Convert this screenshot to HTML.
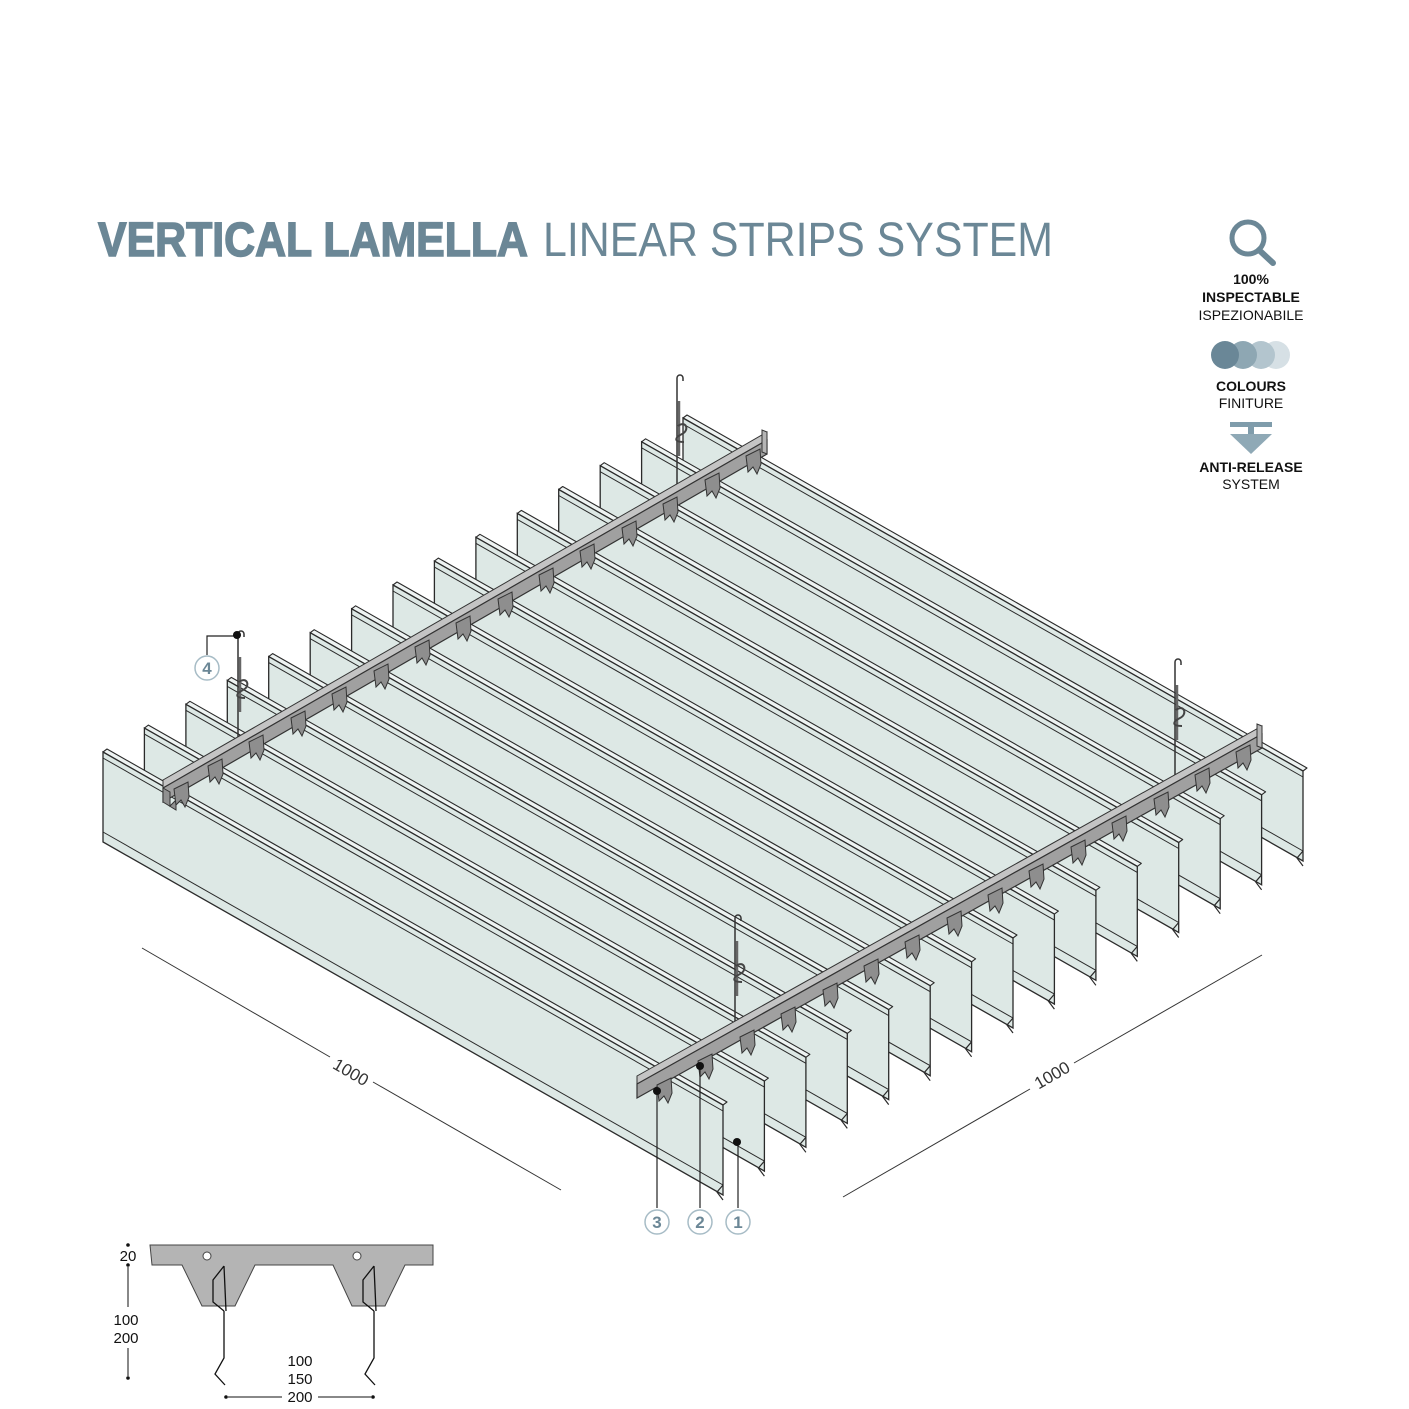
<!DOCTYPE html>
<html><head><meta charset="utf-8"><style>
html,body{margin:0;padding:0;background:#fff}
svg{display:block}
text{font-family:"Liberation Sans",sans-serif}
.n{font-family:"Liberation Sans Narrow","Liberation Sans",sans-serif}
</style></head><body>
<svg width="1409" height="1409" viewBox="0 0 1409 1409" xmlns="http://www.w3.org/2000/svg">
<defs>
<g id="s">
<polygon points="0,0 4,-3 624,350 620,353" fill="#eef3f2" stroke="#2a2a2a" stroke-width="1.1" stroke-linejoin="round"/>
<polygon points="0,0 620,353 620,443 0,90" fill="#dde8e5" stroke="#2a2a2a" stroke-width="1.3"/>
<line x1="0" y1="6" x2="620" y2="359" stroke="#2a2a2a" stroke-width="1"/>
<line x1="0" y1="80" x2="620" y2="433" stroke="#2a2a2a" stroke-width="1"/>
<polyline points="620,433 614,440 620,448" fill="none" stroke="#2a2a2a" stroke-width="1.2"/>
</g>
<g id="t">
<polygon points="-6,0 8,-7 9,8 5,18 1,11 -4,16" fill="#8e8e8e" stroke="#333" stroke-width="1"/>
</g>
<g id="h">
<path d="M0,0 L0,-118 a3,3 0 0 1 6,0 l0,3" fill="none" stroke="#333" stroke-width="1.5"/>
<line x1="2" y1="-95" x2="2" y2="-40" stroke="#666" stroke-width="2.5"/>
<path d="M1,-70 c8,-6 12,4 4,8 c-8,4 -8,8 2,8" fill="none" stroke="#444" stroke-width="2"/>
</g>
</defs>

<!-- title -->
<text x="98" y="256" font-size="48" font-weight="bold" fill="#6b8796" stroke="#6b8796" stroke-width="1.5" textLength="430" lengthAdjust="spacingAndGlyphs">VERTICAL LAMELLA</text>
<text x="543" y="256" font-size="48" fill="#6b8796" textLength="510" lengthAdjust="spacingAndGlyphs">LINEAR STRIPS SYSTEM</text>

<!-- icons -->
<circle cx="1248" cy="238" r="16" fill="none" stroke="#6b8796" stroke-width="5"/>
<line x1="1259" y1="250" x2="1273" y2="263" stroke="#6b8796" stroke-width="6" stroke-linecap="round"/>
<g class="n" font-size="14" fill="#111" text-anchor="middle">
<text x="1251" y="284" font-weight="bold">100%</text>
<text x="1251" y="302" font-weight="bold">INSPECTABLE</text>
<text x="1251" y="320">ISPEZIONABILE</text>
<text x="1251" y="391" font-weight="bold">COLOURS</text>
<text x="1251" y="408">FINITURE</text>
<text x="1251" y="472" font-weight="bold">ANTI-RELEASE</text>
<text x="1251" y="489">SYSTEM</text>
</g>
<circle cx="1276" cy="355" r="14" fill="#d6e0e5"/>
<circle cx="1261" cy="355" r="14" fill="#b3c5ce"/>
<circle cx="1243" cy="355" r="14" fill="#8ea7b3"/>
<circle cx="1225" cy="355" r="14" fill="#6a8797"/>
<rect x="1230" y="422" width="42" height="5" fill="#7f9cab"/>
<rect x="1248" y="427" width="6" height="8" fill="#7f9cab"/>
<polygon points="1230,434 1272,434 1251,454" fill="#8fa9b6"/>

<!-- strips back to front -->
<use href="#s" x="683" y="418"/>
<use href="#s" x="641.6" y="441.8"/>
<use href="#s" x="600.2" y="465.7"/>
<use href="#s" x="558.7" y="489.5"/>
<use href="#s" x="517.3" y="513.4"/>
<use href="#s" x="475.9" y="537.3"/>
<use href="#s" x="434.4" y="561.1"/>
<use href="#s" x="393" y="585"/>
<use href="#s" x="351.6" y="608.8"/>
<use href="#s" x="310.2" y="632.7"/>
<use href="#s" x="268.7" y="656.6"/>
<use href="#s" x="227.3" y="680.4"/>
<use href="#s" x="185.9" y="704.3"/>
<use href="#s" x="144.4" y="728.1"/>
<use href="#s" x="103" y="752"/>

<!-- hangers -->
<use href="#h" x="238" y="752"/>
<use href="#h" x="677" y="496"/>
<use href="#h" x="1175" y="780"/>
<use href="#h" x="735" y="1036"/>

<!-- back rail -->
<polygon points="163,780 767,432 767,440 163,788" fill="#c4c4c4" stroke="#333" stroke-width="1"/>
<polygon points="163,788 767,440 767,454 163,802" fill="#a0a0a0" stroke="#333" stroke-width="1.2"/>
<polygon points="163,788 170,792 170,806 176,800 176,810 163,802" fill="#909090" stroke="#333" stroke-width="1"/>
<polygon points="767,432 762,430 762,452 767,454" fill="#b5b5b5" stroke="#333" stroke-width="1"/>
<g>
<use href="#t" x="214" y="766"/><use href="#t" x="255" y="742"/><use href="#t" x="297" y="718"/>
<use href="#t" x="338" y="694"/><use href="#t" x="380" y="671"/><use href="#t" x="421" y="647"/>
<use href="#t" x="462" y="623"/><use href="#t" x="504" y="599"/><use href="#t" x="545" y="575"/>
<use href="#t" x="586" y="551"/><use href="#t" x="628" y="528"/><use href="#t" x="669" y="504"/>
<use href="#t" x="711" y="480"/><use href="#t" x="752" y="456"/><use href="#t" x="180" y="789"/>
</g>
<!-- front rail -->
<polygon points="637,1076 1262,726 1262,734 637,1084" fill="#c4c4c4" stroke="#333" stroke-width="1"/>
<polygon points="637,1084 1262,734 1262,748 637,1098" fill="#a0a0a0" stroke="#333" stroke-width="1.2"/>
<polygon points="1262,726 1257,724 1257,746 1262,748" fill="#b5b5b5" stroke="#333" stroke-width="1"/>
<g>
<use href="#t" x="663" y="1085"/><use href="#t" x="704" y="1061"/><use href="#t" x="746" y="1037"/>
<use href="#t" x="787" y="1014"/><use href="#t" x="829" y="990"/><use href="#t" x="870" y="966"/>
<use href="#t" x="911" y="942"/><use href="#t" x="953" y="918"/><use href="#t" x="994" y="895"/>
<use href="#t" x="1035" y="871"/><use href="#t" x="1077" y="847"/><use href="#t" x="1118" y="823"/>
<use href="#t" x="1160" y="799"/><use href="#t" x="1201" y="775"/><use href="#t" x="1242" y="752"/>
</g>

<!-- dimension lines -->
<line x1="142" y1="948" x2="330" y2="1057" stroke="#333" stroke-width="1"/>
<line x1="373" y1="1082" x2="561" y2="1190" stroke="#333" stroke-width="1"/>
<text x="351" y="1078" font-size="17" fill="#333" text-anchor="middle" transform="rotate(30 351 1072)">1000</text>
<line x1="843" y1="1197" x2="1030" y2="1089" stroke="#333" stroke-width="1"/>
<line x1="1074" y1="1063" x2="1262" y2="955" stroke="#333" stroke-width="1"/>
<text x="1052" y="1081" font-size="17" fill="#333" text-anchor="middle" transform="rotate(-30 1052 1075)">1000</text>

<!-- callouts -->
<g stroke="#222" stroke-width="1.2" fill="none">
<polyline points="207,655 207,636 237,636"/>
<line x1="657" y1="1091" x2="657" y2="1208"/>
<line x1="700" y1="1066" x2="700" y2="1208"/>
<line x1="738" y1="1142" x2="738" y2="1208"/>
</g>
<g fill="#111"><circle cx="237" cy="635" r="4"/><circle cx="657" cy="1091" r="4"/><circle cx="700" cy="1066" r="4"/><circle cx="737" cy="1142" r="4"/></g>
<g fill="#fff" stroke="#a7bcc6" stroke-width="1.5">
<circle cx="207" cy="668" r="12"/><circle cx="657" cy="1222" r="12"/><circle cx="700" cy="1222" r="12"/><circle cx="738" cy="1222" r="12"/>
</g>
<g font-size="17" font-weight="bold" fill="#6b8796" text-anchor="middle">
<text x="207" y="674">4</text><text x="657" y="1228">3</text><text x="700" y="1228">2</text><text x="738" y="1228">1</text>
</g>

<!-- section detail -->
<path d="M150,1245 L433,1245 L433,1265 L405,1265 L385,1306 L352,1306 L333,1265 L255,1265 L235,1306 L202,1306 L182,1265 L152,1265 Z" fill="#b4b4b4" stroke="#444" stroke-width="1"/>
<circle cx="207" cy="1256" r="4" fill="#fff" stroke="#444"/>
<circle cx="357" cy="1256" r="4" fill="#fff" stroke="#444"/>
<g fill="none" stroke="#111" stroke-width="1.3">
<path d="M224,1266 L213,1280 L213,1302 L224,1311"/><path d="M224,1266 L226,1311"/>
<path d="M224,1311 L224,1358 L215,1374 L225,1385"/>
<path d="M374,1266 L363,1280 L363,1302 L374,1311"/><path d="M374,1266 L376,1311"/>
<path d="M374,1311 L374,1358 L365,1374 L375,1385"/>
</g>
<g fill="#111"><circle cx="128" cy="1245" r="1.8"/><circle cx="128" cy="1265" r="1.8"/><circle cx="128" cy="1378" r="1.8"/><circle cx="226" cy="1397" r="1.8"/><circle cx="373" cy="1397" r="1.8"/></g>
<line x1="128" y1="1267" x2="128" y2="1307" stroke="#111"/>
<line x1="128" y1="1348" x2="128" y2="1376" stroke="#111"/>
<line x1="228" y1="1397" x2="282" y2="1397" stroke="#111"/>
<line x1="318" y1="1397" x2="371" y2="1397" stroke="#111"/>
<g font-size="15" fill="#111" text-anchor="middle">
<text x="128" y="1261">20</text><text x="126" y="1325">100</text><text x="126" y="1343">200</text>
<text x="300" y="1366">100</text><text x="300" y="1384">150</text><text x="300" y="1402">200</text>
</g>
</svg>
</body></html>
